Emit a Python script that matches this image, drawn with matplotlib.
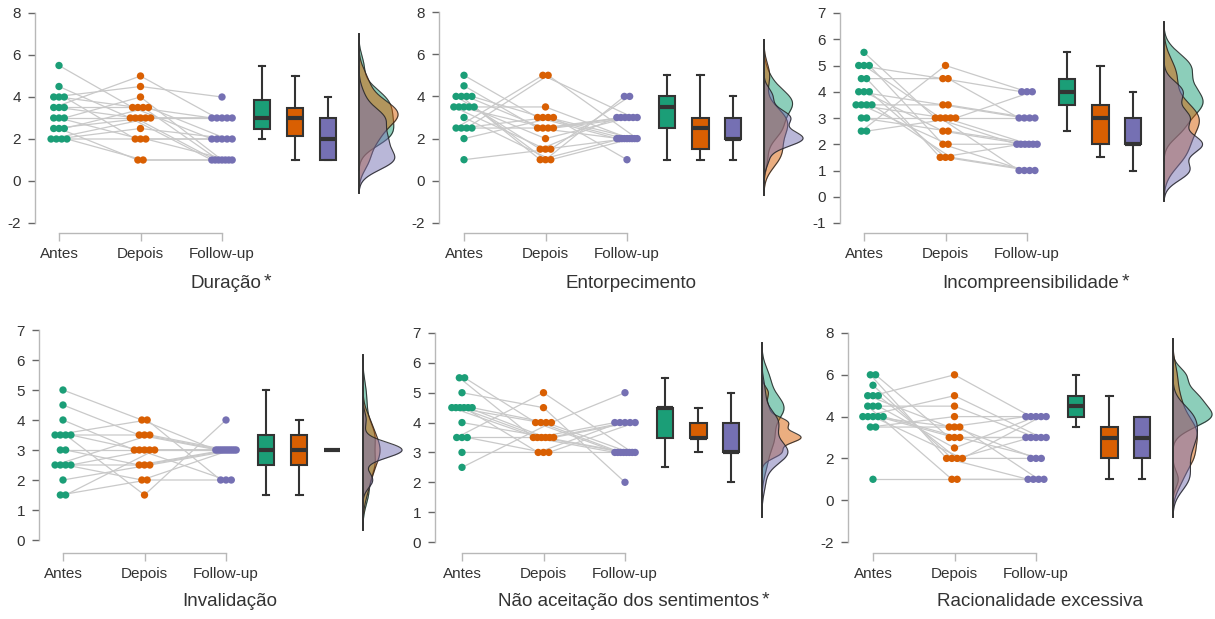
import numpy as np
import matplotlib
matplotlib.use("Agg")
import matplotlib.pyplot as plt

plt.rcParams['font.family'] = ['Liberation Sans', 'DejaVu Sans']
plt.rcParams['axes.unicode_minus'] = False

groups = ['Antes', 'Depois', 'Follow-up']
colors = ['#1b9e77', '#d95f02', '#7570b3']

titles = ['Duração', 'Entorpecimento', 'Incompreensibilidade',
          'Invalidação', 'Não aceitação dos sentimentos', 'Racionalidade excessiva']
starred = [True, False, True, False, True, False]

# one value per participant and moment (same index = same participant)
dur_antes = [5.5, 4.5, 4, 4, 4, 3.5, 3.5, 3.5, 3, 3, 3, 2.5, 2.5, 2.5, 2, 2, 2, 2]
dur_depois = [3.5, 3, 4.5, 3.5, 2, 5, 3, 3.5, 3, 2, 4, 3, 1, 3.5, 3, 2.5, 2, 1]
dur_follow = [2, 1, 4, 3, 2, 3, 1, 1, 3, 2, 1, 3, 1, 2, 3, 2, 1, 1]

ent_antes = [5, 4.5, 4, 4, 4, 4, 3.5, 3.5, 3.5, 3.5, 3.5, 3, 2.5, 2.5, 2.5, 2.5, 2, 1]
ent_depois = [3, 2.5, 1.5, 1, 2.5, 3, 1.5, 2.5, 3.5, 2, 1, 1, 5, 3, 5, 2.5, 3, 1.5]
ent_follow = [2, 2, 3, 2, 3, 2, 2, 3, 2, 3, 4, 2, 3, 2, 2, 3, 1, 4]

inc_antes = [5.5, 5, 5, 5, 4.5, 4.5, 4, 4, 4, 3.5, 3.5, 3.5, 3.5, 3, 3, 2.5, 2.5]
inc_depois = [3, 4.5, 3, 2, 4.5, 1.5, 3.5, 2.5, 1.5, 3, 2, 3.5, 1.5, 2.5, 3, 5, 3]
inc_follow = [2, 4, 1, 1, 3, 2, 3, 2, 1, 2, 2, 3, 1, 2, 3, 4, 4]

inv_antes = [5, 4.5, 4, 3.5, 3.5, 3.5, 3.5, 3, 3, 2.5, 2.5, 2.5, 2.5, 2, 1.5, 1.5]
inv_depois = [4, 3.5, 3, 4, 3.5, 1.5, 3, 3, 2.5, 3.5, 2.5, 2, 3, 2.5, 2, 3]
inv_follow = [3, 3, 3, 2, 3, 4, 2, 3, 3, 3, 3, 3, 3, 3, 2, 3]

nao_antes = [5.5, 5.5, 5, 4.5, 4.5, 4.5, 4.5, 4.5, 4.5, 4, 3.5, 3.5, 3.5, 3, 2.5]
nao_depois = [3.5, 4, 4.5, 3.5, 4, 3.5, 3, 3.5, 4, 3.5, 5, 3.5, 3, 3, 4]
nao_follow = [3, 3, 2, 4, 3, 3, 4, 3, 3, 4, 3, 4, 3, 4, 5]

rac_antes = [6, 6, 5.5, 5, 5, 5, 4.5, 4.5, 4.5, 4, 4, 4, 4, 4, 3.5, 3.5, 1]
rac_depois = [2, 3, 2, 3.5, 6, 2, 1, 4.5, 2.5, 5, 3.5, 2, 3, 3, 4, 3.5, 1]
rac_follow = [1, 3, 2, 4, 4, 3, 1, 3, 4, 3, 2, 4, 3, 2, 4, 1, 1]

panel_data = [
    (dur_antes, dur_depois, dur_follow),
    (ent_antes, ent_depois, ent_follow),
    (inc_antes, inc_depois, inc_follow),
    (inv_antes, inv_depois, inv_follow),
    (nao_antes, nao_depois, nao_follow),
    (rac_antes, rac_depois, rac_follow),
]
y_ticks = [np.arange(-2, 9, 2), np.arange(-2, 9, 2), np.arange(-1, 8, 1),
           np.arange(0, 8, 1), np.arange(0, 8, 1), np.arange(-2, 9, 2)]

# layout in pixels: y-axis x, "Antes" x, top tick y, bottom tick y, x-axis y, title y
layout = [
    (35, 59, 13, 223, 233, 283),
    (439, 464, 12, 223, 233, 283),
    (840, 864, 13, 223, 233, 283),
    (39, 63, 330, 540, 553, 601),
    (435, 462, 333, 542, 553, 601),
    (848, 873, 333, 542, 553, 601),
]

W, H = 1215, 619
STEP = 81.5
box_pos = [3.49, 3.9, 4.3]
dens_x = 4.68
dens_w = 0.48

fig = plt.figure(figsize=(W / 100, H / 100), dpi=100)


def dodge(vals, center):
    vals = np.asarray(vals, float)
    x = np.full(len(vals), float(center))
    for v in np.unique(vals):
        idx = np.where(vals == v)[0]
        k = len(idx)
        if k > 1:
            sp = min(0.065, 0.25 / (k - 1))
            x[idx] = center + (np.arange(k) - (k - 1) / 2) * sp
    return x


def kde(vals):
    v = np.asarray(vals, float)
    hi = v.std(ddof=1)
    q1, q3 = np.percentile(v, [25, 75])
    lo = min(hi, (q3 - q1) / 1.34)
    if lo == 0:
        lo = hi
    bw = 0.9 * lo * len(v) ** -0.2
    grid = np.linspace(v.min() - 3 * bw, v.max() + 3 * bw, 400)
    d = np.exp(-0.5 * ((grid[:, None] - v[None, :]) / bw) ** 2).sum(1)
    d /= len(v) * bw * np.sqrt(2 * np.pi)
    return grid, d


title_texts = []
for p, (data, ticks, lay) in enumerate(zip(panel_data, y_ticks, layout)):
    yax, antes, top_px, bot_px, xsp, ty = lay
    tmin, tmax = ticks[0], ticks[-1]
    ppu = (bot_px - top_px) / (tmax - tmin)
    right_px = antes + 345
    top_ax = top_px - 4
    ax = fig.add_axes([yax / W, 1 - xsp / H, (right_px - yax) / W, (xsp - top_ax) / H])
    ax.set_xlim(1 - (antes - yax) / STEP, 1 + (right_px - antes) / STEP)
    ax.set_ylim(tmin - (xsp - bot_px) / ppu, tmax + 4 / ppu)
    ax.patch.set_alpha(0)

    # paired lines + points
    xs = [dodge(vals, i + 1) for i, vals in enumerate(data)]
    for s in range(len(data[0])):
        ax.plot([xs[0][s], xs[1][s], xs[2][s]], [data[0][s], data[1][s], data[2][s]],
                color='#c9c9c9', lw=0.9, zorder=1)
    for i, vals in enumerate(data):
        ax.scatter(xs[i], vals, s=28, color=colors[i], edgecolor='none', zorder=3)

    # boxplots
    bp = ax.boxplot(data, positions=box_pos, widths=0.2, patch_artist=True,
                    showfliers=False, whis=1.5, capwidths=0.08, manage_ticks=False,
                    boxprops=dict(edgecolor='#333333', linewidth=1.5),
                    medianprops=dict(color='#333333', linewidth=3),
                    whiskerprops=dict(color='#333333', linewidth=1.5),
                    capprops=dict(color='#333333', linewidth=1.5))
    for patch, c in zip(bp['boxes'], colors):
        patch.set_facecolor(c)

    # half densities
    dens = [kde(vals) for vals in data]
    scale = dens_w / max(d.max() for _, d in dens)
    for (grid, d), c in zip(dens, colors):
        ax.fill_betweenx(grid, dens_x, dens_x + d * scale, color=c, alpha=0.5, lw=0, zorder=2)
        ax.plot(dens_x + d * scale, grid, color='#222222', lw=0.8, alpha=0.85, zorder=2)
    gmin = min(g.min() for g, _ in dens)
    gmax = max(g.max() for g, _ in dens)
    ax.plot([dens_x, dens_x], [gmin, gmax], color='#333333', lw=1.4, zorder=2)

    # axes style
    for side in ['top', 'right']:
        ax.spines[side].set_visible(False)
    ax.spines['left'].set_bounds(tmin, tmax)
    ax.spines['bottom'].set_bounds(1, 3)
    for side in ['left', 'bottom']:
        ax.spines[side].set_color('#b8b8b8')
        ax.spines[side].set_linewidth(1)
    ax.set_yticks(ticks)
    ax.set_yticklabels([str(t) for t in ticks])
    ax.set_xticks([1, 2, 3])
    ax.set_xticklabels(groups)
    ax.tick_params(axis='y', length=5, width=1, color='#666666', labelsize=11,
                   labelcolor='#333333', pad=5)
    ax.tick_params(axis='x', length=6, width=1, color='#b8b8b8', labelsize=11,
                   labelcolor='#333333', pad=4)

    fu_px = antes + 2 * STEP
    t = fig.text((fu_px + 4) / W, 1 - ty / H, titles[p], ha='center', va='center',
                 fontsize=13.5, color='#333333')
    title_texts.append(t)

fig.canvas.draw()
renderer = fig.canvas.get_renderer()
inv = fig.transFigure.inverted()
for t, star in zip(title_texts, starred):
    if not star:
        continue
    bb = t.get_window_extent(renderer)
    x, y = inv.transform((bb.x1 + 2, bb.y1 + 1))
    fig.text(x, y, '*', ha='left', va='top', fontsize=14, color='#333333')

fig.savefig('out.png', dpi=100)
